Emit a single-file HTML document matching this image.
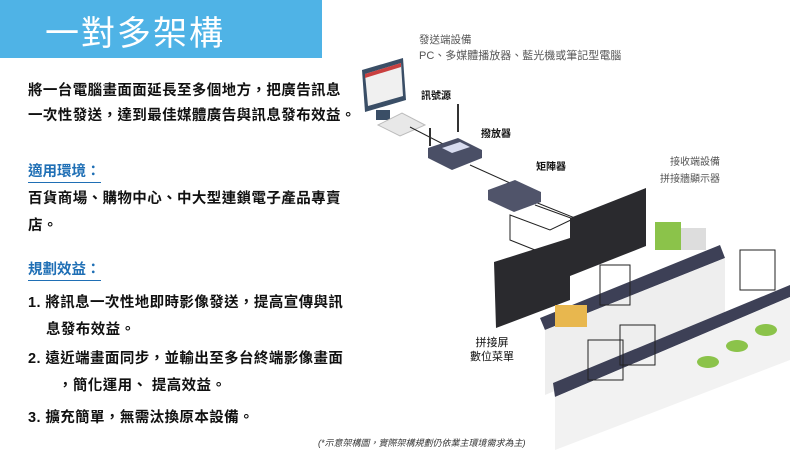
<!DOCTYPE html>
<html><head><meta charset="utf-8"><style>
body{margin:0;width:800px;height:450px;overflow:hidden;background:#fff;font-family:"Liberation Sans","Noto Sans CJK TC",sans-serif;position:relative}
.t{position:absolute;white-space:nowrap}
.b{font-size:14.5px;color:#111;font-weight:bold;letter-spacing:0.4px}
.h{font-size:14.5px;color:#1f6fb5;font-weight:bold;border-bottom:1.5px solid #1f6fb5;padding-bottom:1px}
.g{font-size:10.5px;color:#555}
.k{font-size:10px;color:#111;font-weight:bold}
</style></head><body>
<div style="position:absolute;left:0;top:0;width:322px;height:58px;background:#4fb3e6"></div>
<div class="t" style="left:45px;top:6px;font-size:34px;color:#fff;letter-spacing:2px">一對多架構</div>
<div class="t b" style="left:28px;top:79px">將一台電腦畫面面延長至多個地方，把廣告訊息</div>
<div class="t b" style="left:28px;top:104px">一次性發送，達到最佳媒體廣告與訊息發布效益。</div>
<div class="t h" style="left:28px;top:160px">適用環境：</div>
<div class="t b" style="left:28px;top:187px">百貨商場、購物中心、中大型連鎖電子產品專賣</div>
<div class="t b" style="left:28px;top:214px">店。</div>
<div class="t h" style="left:28px;top:258px">規劃效益：</div>
<div class="t b" style="left:28px;top:291px">1. 將訊息一次性地即時影像發送，提高宣傳與訊</div>
<div class="t b" style="left:46px;top:318px">息發布效益。</div>
<div class="t b" style="left:28px;top:347px">2. 遠近端畫面同步，並輸出至多台終端影像畫面</div>
<div class="t b" style="left:58px;top:374px">，簡化運用、 提高效益。</div>
<div class="t b" style="left:28px;top:406px">3. 擴充簡單，無需汰換原本設備。</div>
<div class="t g" style="left:419px;top:32px">發送端設備</div>
<div class="t g" style="left:419px;top:47px;font-size:11px">PC、多媒體播放器、藍光機或筆記型電腦</div>
<div class="t k" style="left:421px;top:87px">訊號源</div>
<div class="t k" style="left:481px;top:125px">撥放器</div>
<div class="t k" style="left:536px;top:158px">矩陣器</div>
<div class="t g" style="left:670px;top:153px;font-size:10px">接收端設備</div>
<div class="t g" style="left:660px;top:170px;font-size:10px">拼接牆顯示器</div>
<div class="t k" style="left:470px;top:336px;font-weight:normal;font-size:11px;line-height:14px;text-align:center">拼接屏<br>數位菜單</div>
<div class="t" style="left:318px;top:436px;font-size:9px;color:#333;font-style:italic">(*示意架構圖，實際架構規劃仍依業主環境需求為主)</div>
<svg width="800" height="450" style="position:absolute;left:0;top:0">
<polygon points="362,70 403,58 406,100 365,112" fill="#3a4e66"/>
<polygon points="365,74 401,63 403,96 368,106" fill="#f0f0f0"/>
<polygon points="365,74 401,63 401,67 365,78" fill="#c94040"/>
<rect x="376" y="110" width="14" height="10" fill="#3a4e66"/>
<polygon points="378,125 402,113 425,125 400,136" fill="#e8e8e8" stroke="#bbb"/>
<polyline points="410,127 445,145" stroke="#222" fill="none"/>
<polyline points="470,165 510,183" stroke="#222" fill="none"/>
<polyline points="530,200 575,218 550,230 510,215 510,240 540,252" stroke="#222" fill="none"/>
<polyline points="535,205 590,225" stroke="#222" fill="none"/>
<line x1="430" y1="146" x2="430" y2="128" stroke="#333" stroke-width="2"/>
<line x1="458" y1="132" x2="458" y2="104" stroke="#333" stroke-width="2"/>
<polygon points="428,148 458,138 482,150 482,158 452,170 428,158" fill="#4a4f66"/>
<polygon points="442,148 460,142 470,147 452,153" fill="#d8dcef"/>
<polygon points="488,190 515,180 541,192 541,202 514,212 488,200" fill="#50546a"/>
<polygon points="494,262 570,238 570,300 496,328" fill="#2a2a2e"/>
<polygon points="570,218 646,188 646,246 570,276" fill="#2a2a2e"/>
<polygon points="540,318 720,245 725,258 545,330" fill="#3d4056"/>
<polygon points="545,330 725,258 725,320 545,395" fill="#eeeeee"/>
<polygon points="553,383 790,285 790,297 555,397" fill="#3d4056"/>
<polygon points="555,397 790,297 790,360 555,450" fill="#f2f2f2"/>
<rect x="655" y="222" width="26" height="28" fill="#8bc34a"/>
<rect x="681" y="228" width="25" height="22" fill="#ddd"/>
<rect x="600" y="265" width="30" height="40" fill="none" stroke="#222"/>
<rect x="588" y="340" width="35" height="40" fill="none" stroke="#222"/>
<rect x="620" y="325" width="35" height="40" fill="none" stroke="#222"/>
<rect x="740" y="250" width="35" height="40" fill="none" stroke="#222"/>
<ellipse cx="708" cy="362" rx="11" ry="6" fill="#8bc34a"/>
<ellipse cx="737" cy="346" rx="11" ry="6" fill="#8bc34a"/>
<ellipse cx="766" cy="330" rx="11" ry="6" fill="#8bc34a"/>
<rect x="555" y="305" width="32" height="22" fill="#e8b74e"/>
</svg>
</body></html>
